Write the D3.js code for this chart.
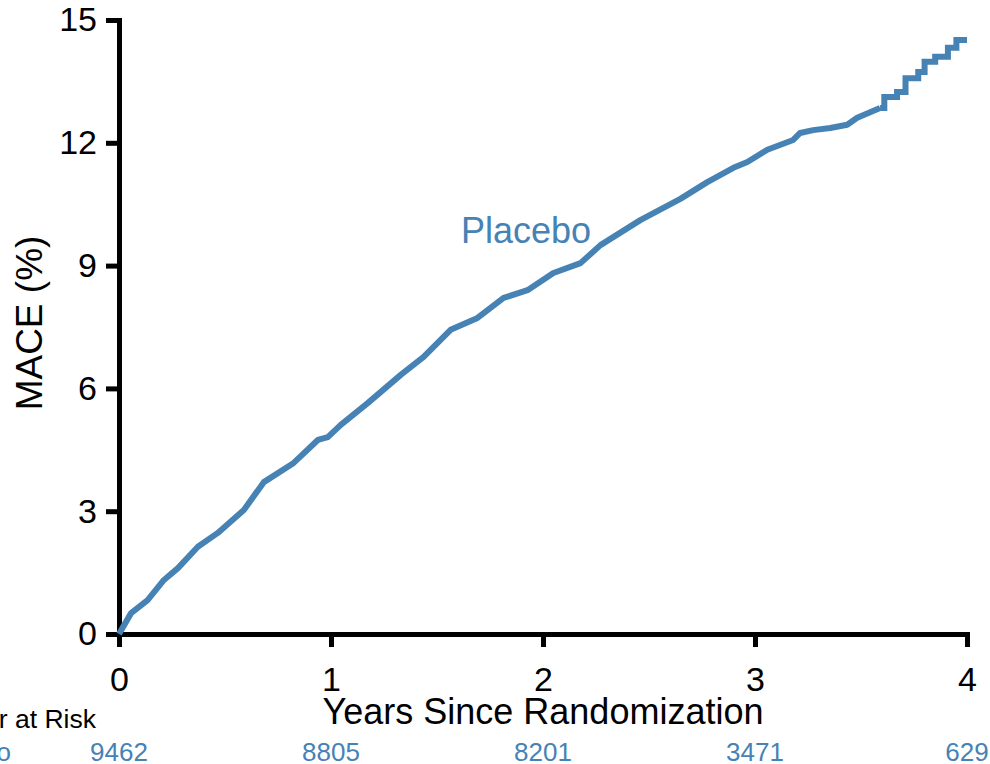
<!DOCTYPE html>
<html>
<head>
<meta charset="utf-8">
<script src="https://cdn.jsdelivr.net/npm/d3@7"></script>
<style>
  body { margin: 0; background: #fff; }
  text { font-family: "Liberation Sans", Arial, sans-serif; }
</style>
</head>
<body>
<script>
// tick values
const xTicks = [0, 1, 2, 3, 4];
const yTicks = [0, 3, 6, 9, 12, 15];

// KM curve for placebo (years, %)
const smoothYears = [0, 0.057, 0.135, 0.212, 0.278, 0.372, 0.466, 0.589, 0.683, 0.824, 0.938, 0.985,
  1.046, 1.173, 1.329, 1.437, 1.564, 1.691, 1.814, 1.927, 2.049, 2.177, 2.271, 2.459, 2.648,
  2.775, 2.898, 2.964, 3.058, 3.180, 3.213, 3.274, 3.355, 3.435, 3.482, 3.59];
const smoothPct = [0, 0.51, 0.83, 1.32, 1.61, 2.13, 2.47, 3.03, 3.71, 4.18, 4.74, 4.81,
  5.11, 5.64, 6.33, 6.77, 7.43, 7.72, 8.21, 8.40, 8.82, 9.06, 9.50, 10.11, 10.63,
  11.04, 11.39, 11.53, 11.83, 12.07, 12.24, 12.31, 12.36, 12.44, 12.61, 12.85];
// tail, where single steps are visible
const stepYears = [3.59, 3.61, 3.67, 3.71, 3.77, 3.80, 3.85, 3.91, 3.95, 4.0];
const stepPct = [12.85, 13.12, 13.24, 13.58, 13.73, 13.98, 14.10, 14.32, 14.51, 14.51];

// number at risk
const riskYears = [0, 1, 2, 3, 4];
const riskPlacebo = [9462, 8805, 8201, 3471, 629];

const blue = "#4682b4";
const width = 990, height = 764;

const x = d3.scaleLinear().domain([0, 4]).range([119, 967]);
const y = d3.scaleLinear().domain([0, 15]).range([634, 20]);

const svg = d3.select("body").append("svg")
  .attr("width", width)
  .attr("height", height);

// axes
const styleAxis = g => {
  g.select(".domain").attr("stroke", "#000").attr("stroke-width", 5).attr("stroke-linecap", "square");
  g.selectAll(".tick line").attr("stroke", "#000").attr("stroke-width", 5);
  g.selectAll(".tick text").attr("fill", "#000").style("font-size", "34px")
    .style("font-family", "'Liberation Sans', Arial, sans-serif");
};

svg.append("g")
  .attr("transform", "translate(" + x(0) + ",0)")
  .call(d3.axisLeft(y).tickValues(yTicks).tickSize(13).tickSizeOuter(0).tickPadding(9)
    .tickFormat(d3.format("d")))
  .call(styleAxis);

svg.append("g")
  .attr("transform", "translate(0," + y(0) + ")")
  .call(d3.axisBottom(x).tickValues(xTicks).tickSize(13).tickSizeOuter(0).tickPadding(20)
    .tickFormat(d3.format("d")))
  .call(styleAxis);

// curve
const smooth = smoothYears.map((t, i) => [t, smoothPct[i]]);
const steps = stepYears.map((t, i) => [t, stepPct[i]]);

svg.append("path")
  .datum(smooth)
  .attr("fill", "none")
  .attr("stroke", blue)
  .attr("stroke-width", 6)
  .attr("stroke-linejoin", "round")
  .attr("d", d3.line().x(d => x(d[0])).y(d => y(d[1])).curve(d3.curveLinear));

svg.append("path")
  .datum(steps)
  .attr("fill", "none")
  .attr("stroke", blue)
  .attr("stroke-width", 6)
  .attr("d", d3.line().x(d => x(d[0])).y(d => y(d[1])).curve(d3.curveStepAfter));

// series label
svg.append("text")
  .attr("x", 526)
  .attr("y", 243)
  .attr("text-anchor", "middle")
  .attr("fill", blue)
  .style("font-size", "36px")
  .text("Placebo");

// axis titles
svg.append("text")
  .attr("transform", "translate(42,323) rotate(-90)")
  .attr("text-anchor", "middle")
  .style("font-size", "37px")
  .text("MACE (%)");

svg.append("text")
  .attr("x", 543)
  .attr("y", 724)
  .attr("text-anchor", "middle")
  .style("font-size", "36px")
  .text("Years Since Randomization");

// number at risk table
svg.append("text")
  .attr("x", 96)
  .attr("y", 728)
  .attr("text-anchor", "end")
  .style("font-size", "26.5px")
  .text("Number at Risk");

svg.append("text")
  .attr("x", 11)
  .attr("y", 761)
  .attr("text-anchor", "end")
  .attr("fill", blue)
  .style("font-size", "26px")
  .text("Placebo");

svg.selectAll(".risk")
  .data(riskYears)
  .enter().append("text")
  .attr("class", "risk")
  .attr("x", d => x(d))
  .attr("y", 761)
  .attr("text-anchor", "middle")
  .attr("fill", blue)
  .style("font-size", "26px")
  .text((d, i) => riskPlacebo[i]);
</script>
</body>
</html>
